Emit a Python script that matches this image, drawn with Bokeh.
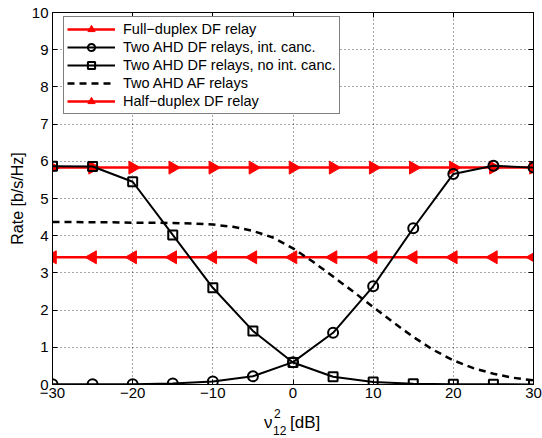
import math
from bokeh.plotting import figure
from bokeh.layouts import column
from bokeh.models import Range1d, FixedTicker, LinearAxis, Legend, LegendItem, Div
from bokeh.embed import file_html
from bokeh.resources import INLINE

# ---------------- data ----------------
x_db = [-30, -25, -20, -15, -10, -5, 0, 5, 10, 15, 20, 25, 30]
full_duplex_df = [5.83] * 13
half_duplex_df = [3.42] * 13
ahd_df_int_canc = [0.01, 0.01, 0.01, 0.03, 0.08, 0.22, 0.60, 1.39, 2.64, 4.20, 5.66, 5.88, 5.83]
ahd_df_no_int_canc = [5.87, 5.86, 5.45, 4.02, 2.60, 1.44, 0.59, 0.21, 0.07, 0.02, 0.01, 0.01, 0.00]
af_x_db = [-30, -27.5, -25, -22.5, -20, -17.5, -15, -12.5, -10, -7.5, -5, -2.5, 0,
           2.5, 5, 7.5, 10, 12.5, 15, 17.5, 20, 22.5, 25, 27.5, 30]
ahd_af = [4.37, 4.37, 4.36, 4.36, 4.35, 4.35, 4.34, 4.33, 4.30, 4.24, 4.13, 3.95, 3.66,
          3.30, 2.90, 2.50, 2.08, 1.67, 1.28, 0.93, 0.65, 0.44, 0.29, 0.18, 0.11]

x_ticks = [-30, -20, -10, 0, 10, 20, 30]
y_ticks = [0, 1, 2, 3, 4, 5, 6, 7, 8, 9, 10]
x_tick_labels = ["\u221230", "\u221220", "\u221210", "0", "10", "20", "30"]
y_tick_labels = ["0", "1", "2", "3", "4", "5", "6", "7", "8", "9", "10"]

labels = ["Full\u2212duplex DF relay",
          "Two AHD DF relays, int. canc.",
          "Two AHD DF relays, no int. canc.",
          "Two AHD AF relays",
          "Half\u2212duplex DF relay"]

FONT = "Liberation Sans"

p = figure(width=542, height=406,
           x_range=Range1d(-30, 30), y_range=Range1d(0, 10),
           output_backend="svg", toolbar_location=None,
           min_border_left=52, min_border_right=9, min_border_top=12, min_border_bottom=22,
           background_fill_color="white", border_fill_color="white", margin=0)
p.outline_line_color = "black"
p.outline_line_width = 1

# axes
for ax in (p.xaxis[0], p.yaxis[0]):
    ax.major_tick_in = 5
    ax.major_tick_out = 0
    ax.minor_tick_line_color = None
    ax.axis_line_color = "black"
    ax.major_tick_line_color = "black"
    ax.major_label_text_font = FONT
    ax.major_label_text_font_size = "15px"
    ax.major_label_text_color = "black"
    ax.axis_label_text_font = FONT
    ax.axis_label_text_font_size = "16px"
    ax.axis_label_text_font_style = "normal"
    ax.axis_label_text_color = "black"

p.xaxis.ticker = FixedTicker(ticks=x_ticks)
p.yaxis.ticker = FixedTicker(ticks=y_ticks)
p.xaxis.major_label_overrides = {t: s for t, s in zip(x_ticks, x_tick_labels)}
p.yaxis.major_label_overrides = {t: s for t, s in zip(y_ticks, y_tick_labels)}
p.xaxis.major_label_standoff = 3
p.yaxis.major_label_standoff = 4
p.yaxis.axis_label = "Rate [b/s/Hz]"
p.yaxis.axis_label_standoff = 3

for loc, ticks in (("above", x_ticks), ("right", y_ticks)):
    ax = LinearAxis(ticker=FixedTicker(ticks=ticks))
    ax.major_tick_in = 5
    ax.major_tick_out = 0
    ax.minor_tick_line_color = None
    ax.major_label_text_font_size = "1px"
    ax.major_label_text_alpha = 0
    ax.major_label_standoff = 0
    ax.axis_line_color = "black"
    p.add_layout(ax, loc)

# grid
for g in (p.xgrid[0], p.ygrid[0]):
    g.grid_line_color = "black"
    g.grid_line_alpha = 0.7
    g.grid_line_width = 1
    g.grid_line_dash = "1 3"
p.xgrid.ticker = FixedTicker(ticks=x_ticks)
p.ygrid.ticker = FixedTicker(ticks=y_ticks)

RED = "#ff0000"

# series
fd_l = p.line(x_db, full_duplex_df, line_color=RED, line_width=2.5)
fd_m = p.scatter(x_db, full_duplex_df, marker="triangle", angle=-math.pi / 2, size=13,
                 fill_color=RED, line_color=RED, line_width=1)
hd_l = p.line(x_db, half_duplex_df, line_color=RED, line_width=2.5)
hd_m = p.scatter(x_db, half_duplex_df, marker="triangle", angle=math.pi / 2, size=13,
                 fill_color=RED, line_color=RED, line_width=1)
af_l = p.line(af_x_db, ahd_af, line_color="black", line_width=2.5, line_dash="7 5")
nic_l = p.line(x_db, ahd_df_no_int_canc, line_color="black", line_width=2)
nic_m = p.scatter(x_db, ahd_df_no_int_canc, marker="square", size=9,
                  fill_color=None, line_color="black", line_width=2)
ic_l = p.line(x_db, ahd_df_int_canc, line_color="black", line_width=2)
ic_m = p.scatter(x_db, ahd_df_int_canc, marker="circle", size=10,
                 fill_color=None, line_color="black", line_width=2)

legend = Legend(items=[
    LegendItem(label=labels[0], renderers=[fd_l, fd_m]),
    LegendItem(label=labels[1], renderers=[ic_l, ic_m]),
    LegendItem(label=labels[2], renderers=[nic_l, nic_m]),
    LegendItem(label=labels[3], renderers=[af_l]),
    LegendItem(label=labels[4], renderers=[hd_l, hd_m]),
], location=(11, 270))
legend.label_text_font = FONT
legend.label_text_font_size = "14.5px"
legend.label_text_color = "black"
legend.label_height = 18
legend.glyph_height = 18
legend.glyph_width = 48
legend.label_standoff = 8
legend.spacing = 0
legend.padding = 3
legend.margin = 0
legend.border_line_color = "black"
legend.border_line_width = 1
legend.background_fill_color = "white"
legend.background_fill_alpha = 1
p.add_layout(legend, "center")

# x-axis label: nu_{12}^2 [dB]  (superscript 2 stacked over subscript 12)
x_label_html = (
    '<div style="position:relative;width:542px;height:32px;'
    'font-family:\'Liberation Sans\';color:black;">'
    '<span style="position:absolute;left:264px;top:8px;font-size:17px;line-height:17px;">\u03bd</span>'
    '<span style="position:absolute;left:274px;top:2px;font-size:12px;line-height:12px;">2</span>'
    '<span style="position:absolute;left:273px;top:19px;font-size:12px;line-height:12px;">12</span>'
    '<span style="position:absolute;left:290px;top:8px;font-size:17px;line-height:17px;">[dB]</span>'
    '</div>'
)
x_label = Div(text=x_label_html, width=542, height=32, margin=0)

page = column(p, x_label, spacing=0, margin=0)

open("out.html", "w").write(file_html(page, INLINE))
